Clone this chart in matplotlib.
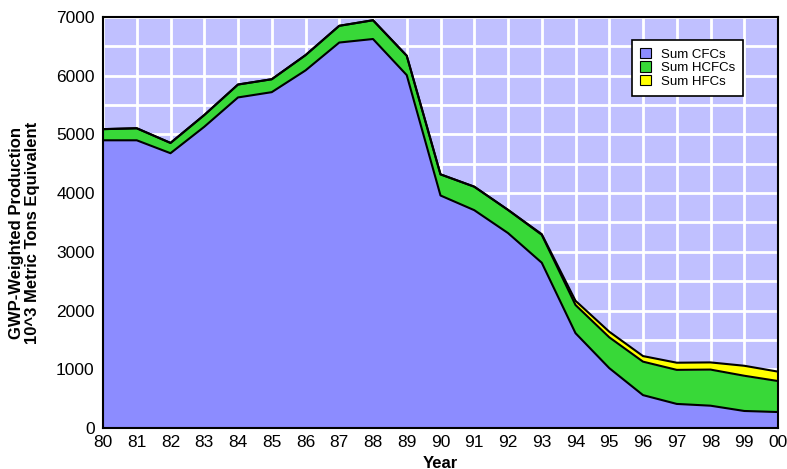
import matplotlib
matplotlib.use("Agg")
import matplotlib.pyplot as plt
import numpy as np
from matplotlib.patches import Patch

plt.rcParams['font.family'] = ['Liberation Sans', 'DejaVu Sans']

years = list(range(1980, 2001))
year_labels = ["80", "81", "82", "83", "84", "85", "86", "87", "88", "89", "90",
               "91", "92", "93", "94", "95", "96", "97", "98", "99", "00"]
cfcs = [4900, 4900, 4680, 5130, 5630, 5720, 6090, 6565, 6625, 6010, 3960,
        3710, 3320, 2815, 1615, 1020, 560, 410, 380, 290, 272]
totals_hcfc = [5090, 5105, 4855, 5330, 5850, 5940, 6350, 6850, 6945, 6340, 4320,
               4110, 3715, 3290, 2095, 1545, 1130, 990, 995, 890, 800]
hcfcs = [t - c for t, c in zip(totals_hcfc, cfcs)]
hfcs = [0, 0, 0, 0, 0, 0, 0, 0, 0, 0, 0,
        0, 0, 12, 72, 95, 95, 122, 122, 170, 160]

fig = plt.figure(figsize=(7.87, 4.69), dpi=100)
ax = fig.add_axes([103/787, 41/469, 675/787, 411/469])
ax.set_facecolor('#C0C0FF')

x = np.array(years)
c = np.array(cfcs)
h = np.array(hcfcs)
f = np.array(hfcs)
ax.fill_between(x, 0, c, color='#8C8CFF', lw=0, zorder=3)
ax.fill_between(x, c, c + h, color='#38D838', lw=0, zorder=3)
ax.fill_between(x, c + h, c + h + f, color='#FFFF00', lw=0, zorder=3)
ax.plot(x, c, color='black', lw=1.5, zorder=4)
ax.plot(x, c + h, color='black', lw=1.5, zorder=4)
ax.plot(x, c + h + f, color='black', lw=1.5, zorder=4)

ax.set_xlim(1980, 2000)
ax.set_ylim(0, 7000)
ax.set_xticks(years)
ax.set_xticklabels(year_labels)
ax.set_yticks(range(0, 7001, 1000))
ax.set_yticks(range(0, 7001, 500), minor=True)
ax.grid(True, which='both', color='white', lw=2, zorder=1)
ax.set_axisbelow(True)
ax.tick_params(axis='both', which='both', length=0, labelsize=12.5)
ax.tick_params(axis='x', pad=5)
ax.tick_params(axis='y', pad=6)
for s in ax.spines.values():
    s.set_linewidth(1.5)
    s.set_color('black')
    s.set_zorder(5)

ax.set_xlabel('Year', fontsize=12, fontweight='bold', labelpad=4)
ax.set_ylabel('GWP-Weighted Production\n10^3 Metric Tons Equivalent',
              fontsize=12, fontweight='bold', linespacing=1.1)
ax.yaxis.set_label_coords(-0.093, 0.475)

handles = [Patch(facecolor='#8C8CFF', edgecolor='black', lw=0.8, label='Sum CFCs'),
           Patch(facecolor='#38D838', edgecolor='black', lw=0.8, label='Sum HCFCs'),
           Patch(facecolor='#FFFF00', edgecolor='black', lw=0.8, label='Sum HFCs')]
leg = ax.legend(handles=handles, loc='upper left', bbox_to_anchor=(529/675, 1 - 23/411),
                fontsize=9.5, fancybox=False, framealpha=1, edgecolor='black',
                handlelength=0.85, handleheight=0.85, handletextpad=0.75,
                labelspacing=0.05, borderpad=0.6, borderaxespad=0)
leg.get_frame().set_linewidth(1.2)
leg.set_zorder(6)

fig.savefig('out.png', dpi=100)
